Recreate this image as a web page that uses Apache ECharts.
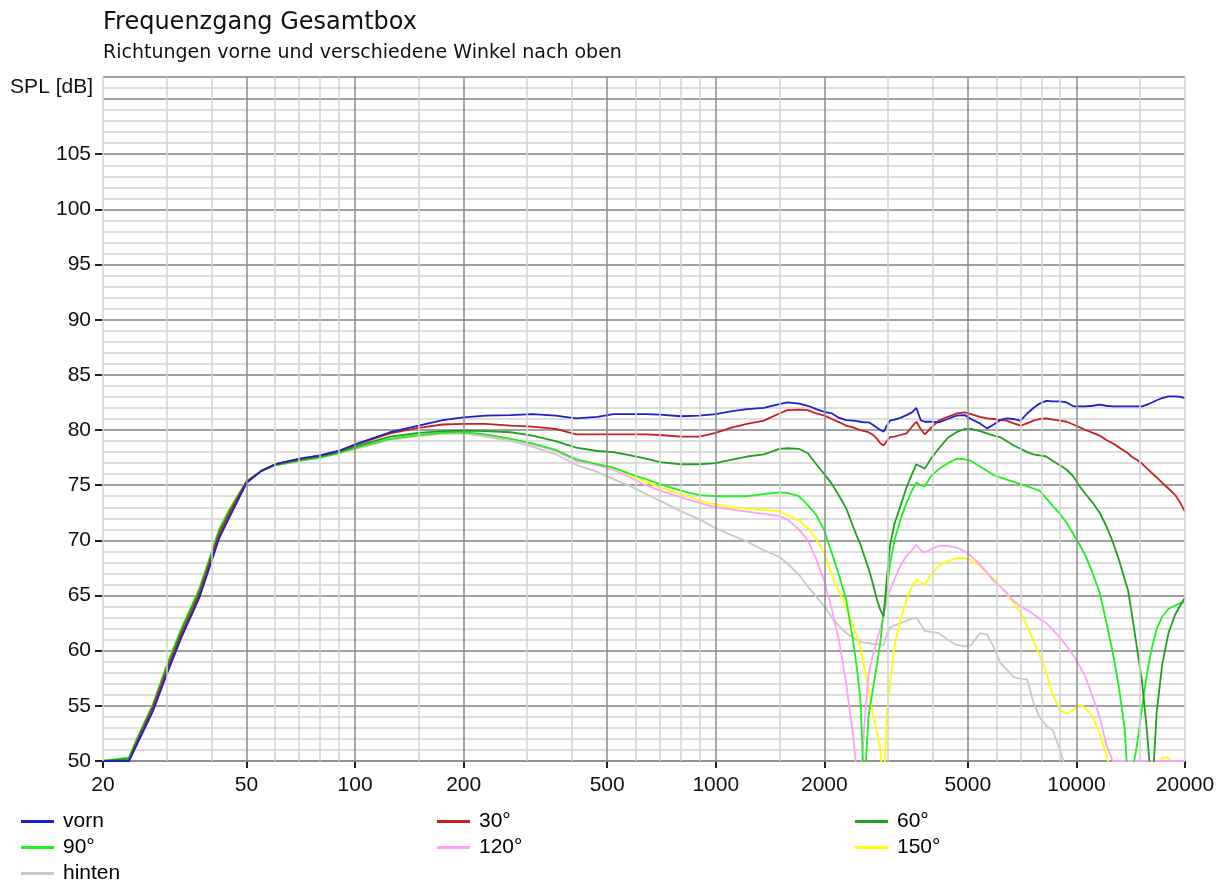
<!DOCTYPE html>
<html><head><meta charset="utf-8">
<script src="https://cdn.jsdelivr.net/npm/echarts@6/dist/echarts.min.js"></script>
<style>html,body{margin:0;padding:0;background:#fff}#c{width:1226px;height:881px}</style>
</head><body><div id="c"></div>
<script>
// ---------------- data ----------------
const freq = [20, 23.6, 25, 27.5, 30, 33, 37, 40, 42, 45,
  50, 55, 60, 70, 80, 90, 100, 125, 150, 175,
  200, 230, 270, 310, 360, 410, 470, 520, 580, 640,
  700, 800, 900, 1000, 1100, 1220, 1360, 1500, 1580, 1700,
  1800, 1900, 2000, 2100, 2200, 2300, 2400, 2460, 2520, 2580,
  2650, 2720, 2800, 2860, 2920, 2980, 3040, 3130, 3250, 3380,
  3500, 3600, 3700, 3800, 3950, 4150, 4400, 4650, 4900, 5100,
  5400, 5650, 5900, 6150, 6400, 6700, 7000, 7300, 7600, 7900,
  8250, 8600, 9000, 9400, 9800, 10200, 10600, 11100, 11600, 12100,
  12600, 13100, 13600, 13900, 14200, 14700, 15200, 15700, 16200, 16700,
  17300, 18000, 18800, 19400, 20000];

const vorn = [50, 50, 51.7, 54.5, 57.8, 61.2, 64.8, 68.1, 70.2, 72.2,
  75.2, 76.3, 76.9, 77.4, 77.7, 78.1, 78.7, 79.8, 80.4, 80.9,
  81.15, 81.3, 81.35, 81.45, 81.3, 81.06, 81.2, 81.45, 81.45, 81.45,
  81.4, 81.25, 81.3, 81.45, 81.7, 81.9, 82.0, 82.35, 82.5, 82.4,
  82.2, 81.9, 81.65, 81.5, 81.1, 80.9, 80.85, 80.8, 80.75, 80.7,
  80.7, 80.5, 80.2, 80.0, 79.85, 80.4, 80.85, 80.95, 81.1, 81.35,
  81.6, 82.0, 80.9, 80.75, 80.75, 80.7, 81.0, 81.3, 81.35, 81.0,
  80.6, 80.15, 80.5, 80.9, 81.06, 81.0, 80.85, 81.5, 82.0, 82.4,
  82.65, 82.6, 82.6, 82.5, 82.15, 82.15, 82.15, 82.2, 82.3, 82.2,
  82.15, 82.15, 82.15, 82.15, 82.15, 82.15, 82.15, 82.3, 82.5, 82.7,
  82.9, 83.05, 83.05, 83.0, 82.9];

const w30 = [50, 50, 51.9, 54.8, 58.1, 61.5, 65.1, 68.4, 70.5, 72.5,
  75.3, 76.3, 76.9, 77.35, 77.7, 78.1, 78.65, 79.7, 80.2, 80.5,
  80.55, 80.55, 80.4, 80.3, 80.1, 79.6, 79.6, 79.6, 79.6, 79.6,
  79.55, 79.4, 79.4, 79.75, 80.2, 80.55, 80.85, 81.5, 81.8, 81.85,
  81.8, 81.5, 81.3, 81.0, 80.7, 80.4, 80.25, 80.1, 80.0, 79.9,
  79.8, 79.6, 79.2, 78.8, 78.6, 79.0, 79.35, 79.4, 79.55, 79.7,
  80.3, 80.75, 80.1, 79.6, 80.2, 80.85, 81.2, 81.5, 81.6, 81.45,
  81.2, 81.06, 81.0, 80.9, 80.85, 80.6, 80.4, 80.6, 80.85, 81.0,
  81.06, 80.95, 80.85, 80.75, 80.5, 80.25, 80.0, 79.75, 79.5, 79.1,
  78.8, 78.45, 78.1, 77.9, 77.6, 77.3, 76.95, 76.5, 76.1, 75.7,
  75.2, 74.7, 74.1, 73.4, 72.6];

const w60 = [50, 50.2, 52.1, 55.0, 58.4, 61.8, 65.4, 68.7, 70.8, 72.7,
  75.3, 76.3, 76.85, 77.3, 77.6, 78.0, 78.5, 79.4, 79.75, 79.9,
  79.95, 79.9, 79.8, 79.5, 79.0, 78.4, 78.1, 78.0, 77.7, 77.4,
  77.1, 76.9, 76.9, 77.0, 77.3, 77.6, 77.8, 78.3, 78.35, 78.3,
  77.9, 76.9, 76.0, 75.1, 74.0, 72.9, 71.3, 70.4, 69.6, 68.6,
  67.5, 66.2, 64.6, 63.7, 63.1, 66.5, 69.5, 71.5, 73.1, 74.8,
  76.0, 76.9, 76.7, 76.5, 77.4, 78.3, 79.3, 79.8, 80.1, 80.1,
  79.9, 79.7, 79.5, 79.35, 79.0, 78.6, 78.3, 78.0, 77.8, 77.7,
  77.6, 77.2, 76.8, 76.4, 75.8, 74.9, 74.2, 73.4, 72.5, 71.3,
  69.9, 68.3, 66.5, 65.5, 63.6, 60.4, 57.2, 52.6, 47.0, 54.5,
  58.8, 61.6, 63.3, 64.1, 64.8];

const w90 = [50, 50.3, 52.2, 55.1, 58.6, 62.0, 65.6, 68.9, 71.0, 72.9,
  75.35, 76.3, 76.8, 77.2, 77.5, 77.9, 78.35, 79.2, 79.55, 79.75,
  79.8, 79.6, 79.2, 78.8, 78.2, 77.35, 76.9, 76.6, 76.0, 75.55,
  75.1, 74.5, 74.1, 74.0, 74.0, 74.0, 74.2, 74.35, 74.3, 74.0,
  73.2, 72.3, 70.9, 68.8, 66.8, 64.6, 61.0, 58.5, 55.5, 47.0,
  54.0, 56.3, 58.8, 60.8, 63.5, 65.5, 67.8, 70.0, 71.9, 73.4,
  74.5, 75.25, 75.0, 74.9, 75.8, 76.45, 77.0, 77.4, 77.35, 77.2,
  76.7, 76.3, 75.9, 75.7, 75.5, 75.3, 75.1, 74.9, 74.7, 74.5,
  73.8, 73.1, 72.4, 71.6, 70.6, 69.6, 68.6, 67.0, 65.25, 62.6,
  59.9, 56.8, 53.0, 48.0, 48.5, 51.3, 54.8, 58.0, 60.3, 62.0,
  63.1, 63.8, 64.1, 64.3, 64.4];

const w120 = [50, 50.3, 52.2, 55.1, 58.6, 62.0, 65.6, 68.9, 71.0, 72.9,
  75.35, 76.3, 76.8, 77.2, 77.5, 77.9, 78.3, 79.15, 79.5, 79.7,
  79.75, 79.55, 79.2, 78.7, 78.1, 77.2, 76.8, 76.4, 75.7, 75.0,
  74.5, 73.9, 73.4, 73.0, 72.8, 72.6, 72.4, 72.2, 71.9, 71.0,
  70.0, 68.3, 66.3, 63.7, 60.8, 57.0, 52.5, 49.0, 48.0, 53.0,
  57.8, 59.5, 61.0, 62.0, 63.3, 64.6, 65.5, 66.45, 67.7, 68.6,
  69.1, 69.6, 69.1, 68.9, 69.2, 69.5, 69.5, 69.35, 69.0, 68.6,
  67.8, 67.1, 66.3, 65.8, 65.25, 64.5, 64.0, 63.7, 63.3, 62.9,
  62.5, 61.9, 61.2, 60.4, 59.6, 58.6, 57.6, 55.8, 54.0, 51.5,
  50, 50, 50, 50, 50, 50, 50, 50, 50, 50,
  50, 50, 50, 50, 50];

const w150 = [50, 50.3, 52.2, 55.1, 58.6, 62.0, 65.6, 68.9, 71.0, 72.9,
  75.35, 76.3, 76.8, 77.2, 77.5, 77.9, 78.3, 79.15, 79.5, 79.7,
  79.75, 79.55, 79.2, 78.75, 78.15, 77.35, 76.9, 76.6, 75.9, 75.3,
  74.8, 74.2, 73.6, 73.25, 73.0, 72.85, 72.75, 72.65, 72.3, 71.8,
  71.1, 70.1, 68.8, 66.8, 65.3, 64.0, 62.3, 61.3, 60.3, 58.5,
  56.5, 54.5, 52.6, 51.0, 47.0, 54.3, 57.0, 60.4, 62.8, 64.6,
  65.8, 66.45, 66.2, 66.0, 66.9, 67.7, 68.1, 68.4, 68.4, 68.2,
  67.7, 67.0, 66.5, 65.85, 65.2, 64.3, 63.5, 62.2, 60.9, 59.6,
  58.0, 56.0, 54.6, 54.3, 54.6, 55.1, 54.8, 54.0, 52.5, 50.6,
  48.5, 47.0, 46.0, 46.0, 46.0, 46.5, 47.0, 47.5, 48.0, 49.0,
  50.3, 50.3, 49.0, 48.0, 47.5];

const hinten = [50, 50.3, 52.2, 55.1, 58.6, 62.0, 65.6, 68.9, 71.0, 72.9,
  75.35, 76.3, 76.8, 77.2, 77.5, 77.9, 78.3, 79.1, 79.45, 79.65,
  79.7, 79.4, 79.0, 78.5, 77.8, 76.85, 76.2, 75.55, 74.9, 74.2,
  73.6, 72.65, 71.9, 71.1, 70.5, 69.9, 69.1, 68.5, 67.9, 66.9,
  65.8, 64.9, 64.0, 63.0, 62.2, 61.6, 61.2, 61.0, 60.8, 60.7,
  60.7, 60.6, 60.6, 60.5, 60.5, 61.5, 62.1, 62.3, 62.5, 62.7,
  62.9, 63.0, 62.4, 61.8, 61.7, 61.6, 61.0, 60.5, 60.4, 60.5,
  61.6, 61.45, 60.3, 58.9, 58.3, 57.6, 57.45, 57.4, 55.3, 54.0,
  53.2, 52.8, 51.0, 49.0, 47.0, 46.0, 45.5, 45.0, 45.0, 45.0,
  45, 45, 45, 45, 45, 45, 45, 45, 45, 45,
  45, 45, 45, 45, 45];

const seriesNames = ['vorn', '30°', '60°', '90°', '120°', '150°', 'hinten'];
const seriesColors = ['#2020c8', '#c82020', '#20a020', '#20f020', '#ffa0ff', '#ffff00', '#c8c8c8'];
const seriesValues = [vorn, w30, w60, w90, w120, w150, hinten];

const xTickLabels = [20, 50, 100, 200, 500, 1000, 2000, 5000, 10000, 20000];
const yTickLabels = [50, 55, 60, 65, 70, 75, 80, 85, 90, 95, 100, 105];
const xGridMajor = [50, 100, 200, 500, 1000, 2000, 5000, 10000];
const xGridMinor = [20, 30, 40, 60, 70, 80, 90, 150, 300, 400, 600, 700, 800, 900, 1500,
  3000, 4000, 6000, 7000, 8000, 9000, 15000, 20000];

// legend layout: [series name, left, top]
const legendSlots = [
  ['vorn', 21, 811], ['30°', 437, 811], ['60°', 855, 811],
  ['90°', 21, 837], ['120°', 437, 837], ['150°', 855, 837],
  ['hinten', 21, 863]
];

const titleText = 'Frequenzgang Gesamtbox';
const subtitleText = 'Richtungen vorne und verschiedene Winkel nach oben';
const yName = 'SPL [dB]';

// ---------------- chart ----------------
const FONT = "'Liberation Sans', Arial, sans-serif";
const TFONT = "'DejaVu Sans', sans-serif";
const Y_MIN = 50, Y_MAX = 112;
const MINOR_C = '#d2d2d2', MAJOR_C = '#8c8c8c';

const chart = echarts.init(document.getElementById('c'), null, { renderer: 'canvas' });

const dataSeries = seriesNames.map((name, i) => ({
  type: 'line',
  name: name,
  xAxisIndex: 0,
  yAxisIndex: 0,
  data: freq.map((f, k) => [f, seriesValues[i][k]]),
  showSymbol: false,
  symbol: 'none',
  color: seriesColors[i],
  lineStyle: { color: seriesColors[i], width: 1.8 },
  emphasis: { disabled: true },
  clip: true,
  z: 2
})).reverse();

const gridSeries = {
  type: 'line',
  name: '_grid',
  xAxisIndex: 0,
  yAxisIndex: 0,
  data: [],
  silent: true,
  z: 1,
  markLine: {
    silent: true,
    symbol: ['none', 'none'],
    label: { show: false },
    emphasis: { disabled: true },
    animation: false,
    data: xGridMinor.map(v => ({ xAxis: v, lineStyle: { color: MINOR_C, width: 1.5, type: 'solid' } }))
      .concat(xGridMajor.map(v => ({ xAxis: v, lineStyle: { color: MAJOR_C, width: 1.5, type: 'solid' } })))
  }
};

const legends = legendSlots.map(([name, left, top]) => ({
  orient: 'horizontal',
  left: left,
  top: top,
  itemWidth: 33,
  itemHeight: 3,
  icon: 'rect',
  padding: 0,
  selectedMode: false,
  data: [name],
  textStyle: { fontFamily: FONT, fontSize: 21, lineHeight: 18, color: '#000', padding: [0, 0, 0, 4] }
}));

const option = {
  animation: false,
  backgroundColor: '#fff',
  grid: { left: 103, right: 41, top: 77, bottom: 120, containLabel: false },
  xAxis: [
    {
      type: 'log', logBase: 10, min: 20, max: 20000, position: 'bottom',
      axisLine: { show: false }, axisTick: { show: false }, axisLabel: { show: false },
      splitLine: { show: false }, minorTick: { show: false }, minorSplitLine: { show: false }
    },
    {
      type: 'value', min: Math.log10(20), max: Math.log10(20000), position: 'bottom',
      axisLine: { show: true, lineStyle: { color: MAJOR_C, width: 1.5 } },
      axisTick: { show: true, length: 7, customValues: xTickLabels.map(Math.log10), lineStyle: { color: '#222', width: 2 } },
      axisLabel: {
        customValues: xTickLabels.map(Math.log10),
        formatter: v => String(Math.round(Math.pow(10, v))),
        margin: 14, fontFamily: FONT, fontSize: 21, color: '#111'
      },
      splitLine: { show: false }
    }
  ],
  yAxis: [
    {
      type: 'value', min: Y_MIN, max: Y_MAX, position: 'left',
      axisLine: { show: false },
      axisTick: { show: true, length: 8, customValues: yTickLabels, lineStyle: { color: '#222', width: 2 } },
      axisLabel: { customValues: yTickLabels, margin: 12, fontFamily: FONT, fontSize: 21, color: '#111' },
      splitLine: { show: false }
    },
    {
      type: 'value', min: Y_MIN, max: Y_MAX, interval: 1, position: 'left',
      axisLine: { show: false }, axisTick: { show: false }, axisLabel: { show: false },
      splitLine: { show: true, lineStyle: { color: MINOR_C, width: 1.5 } }
    },
    {
      type: 'value', min: Y_MIN, max: Y_MAX, interval: 5, position: 'left', z: 1.5,
      axisLine: { show: false }, axisTick: { show: false }, axisLabel: { show: false },
      splitLine: { show: true, lineStyle: { color: MAJOR_C, width: 1.5 } }
    }
  ],
  legend: legends,
  graphic: [
    { type: 'text', x: 103, y: 23, style: { text: titleText, font: '24px ' + TFONT, fill: '#111', verticalAlign: 'middle', align: 'left' } },
    { type: 'text', x: 103, y: 53.5, style: { text: subtitleText, font: '19px ' + TFONT, fill: '#111', verticalAlign: 'middle', align: 'left' } },
    { type: 'text', x: 93, y: 87, style: { text: yName, font: '21px ' + FONT, fill: '#111', verticalAlign: 'middle', align: 'right' } }
  ],
  series: [gridSeries].concat(dataSeries)
};

chart.setOption(option);
</script>
</body></html>
